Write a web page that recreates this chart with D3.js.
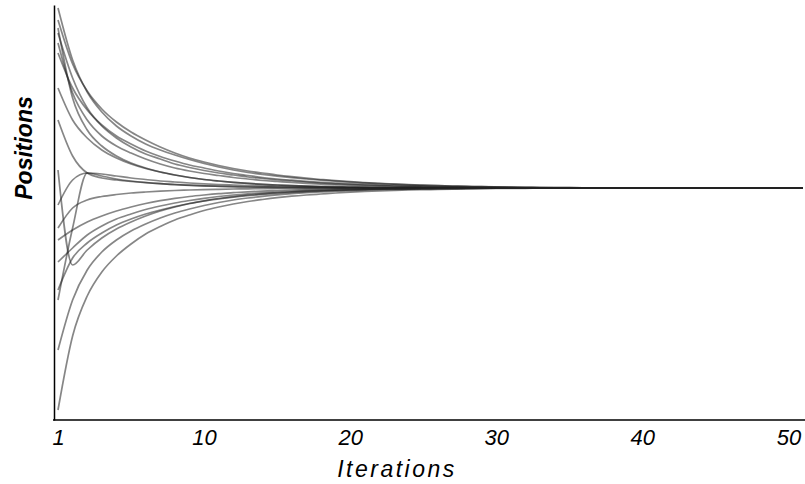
<!DOCTYPE html>
<html>
<head>
<meta charset="utf-8">
<script src="https://cdn.jsdelivr.net/npm/d3@7/dist/d3.min.js"></script>
<style>
  html, body { margin: 0; padding: 0; background: #fff; }
  svg { display: block; }
  text { font-family: "Liberation Sans", Arial, sans-serif; }
</style>
</head>
<body>
<svg id="chart" width="805" height="484"></svg>
<script>
// Tick labels on the iteration axis (placed at step index 0,10,...,50)
const tickSteps = [0, 10, 20, 30, 40, 50];
const tickLabels = ["1", "10", "20", "30", "40", "50"];

// Positions per iteration step (deviation from the converged position)
const seriesA = [180,128,96,76,62,52,44,38,33,28.5, 24.5,21,18,15.5,13.5,11.8,10.3,9,7.8,6.8, 5.9,5.1,4.4,3.8,3.2,2.7,2.3,1.9,1.6,1.3, 1.1,0.9,0.7,0.5,0.4,0.3,0.2,0.1,0,0, 0,0,0,0,0,0,0,0,0,0, 0,0];
const seriesB = [168,124,97,79,66,56,48,41,35,30, 26,22.5,19.5,17,15,13,11.3,9.8,8.5,7.3, 6.3,5.4,4.6,3.9,3.3,2.8,2.3,1.9,1.6,1.3, 1,0.8,0.6,0.5,0.4,0.3,0.2,0.1,0,0, 0,0,0,0,0,0,0,0,0,0, 0,0];
const seriesC = [155,110,80,62,50,41,34,29,24,20.5, 17.5,15,13,11,9.5,8,7,6,5,4.2, 3.5,3,2.5,2,1.6,1.3,1,0.8,0.6,0.5, 0.4,0.3,0.2,0.1,0,0,0,0,0,0, 0,0,0,0,0,0,0,0,0,0, 0,0];
const seriesD = [145,95,68,52,42,35,29,24,20,17, 14.5,12.5,10.5,9,7.5,6.5,5.5,4.6,3.9,3.2, 2.7,2.2,1.8,1.5,1.2,1,0.8,0.6,0.5,0.4, 0.3,0.2,0.1,0,0,0,0,0,0,0, 0,0,0,0,0,0,0,0,0,0, 0,0];
const seriesE = [135,100,78,63,52,44,37,31.5,27,23, 20,17,14.5,12.5,10.5,9,7.8,6.7,5.7,4.9, 4.2,3.6,3,2.6,2.2,1.8,1.5,1.2,1,0.8, 0.6,0.5,0.4,0.3,0.2,0.1,0,0,0,0, 0,0,0,0,0,0,0,0,0,0, 0,0];
const seriesF = [160,90,58,42,32,25,20,16,13,10.5, 8.5,7,5.7,4.6,3.7,3,2.4,1.9,1.5,1.2, 0.9,0.7,0.5,0.4,0.3,0.2,0.1,0,0,0, 0,0,0,0,0,0,0,0,0,0, 0,0,0,0,0,0,0,0,0,0, 0,0];
const seriesG = [100,68,50,38,30,24,19.5,16,13,10.5, 8.5,7,5.7,4.6,3.7,3,2.4,1.9,1.5,1.2, 0.9,0.7,0.5,0.4,0.3,0.2,0.1,0,0,0, 0,0,0,0,0,0,0,0,0,0, 0,0,0,0,0,0,0,0,0,0, 0,0];
const seriesH = [68,32,15,10,8,6.5,5.3,4.3,3.5,2.8, 2.2,1.8,1.4,1.1,0.9,0.7,0.5,0.4,0.3,0.2, 0.1,0,0,0,0,0,0,0,0,0, 0,0,0,0,0,0,0,0,0,0, 0,0,0,0,0,0,0,0,0,0, 0,0];
const seriesI = [-112,-40,15,14,12,10,8.5,7,6,5, 4.2,3.5,3,2.5,2,1.7,1.4,1.1,0.9,0.7, 0.5,0.4,0.3,0.2,0.1,0,0,0,0,0, 0,0,0,0,0,0,0,0,0,0, 0,0,0,0,0,0,0,0,0,0, 0,0];
const seriesJ = [-17,8,15,12,9,7,5.5,4.3,3.4,2.7, 2.1,1.7,1.3,1,0.8,0.6,0.5,0.4,0.3,0.2, 0.1,0,0,0,0,0,0,0,0,0, 0,0,0,0,0,0,0,0,0,0, 0,0,0,0,0,0,0,0,0,0, 0,0];
const seriesK = [-222,-148,-108,-84,-68,-56,-46,-38.5,-32,-27, -22.5,-19,-16,-13.5,-11.5,-9.7,-8.2,-7,-6,-5, -4.2,-3.5,-3,-2.5,-2,-1.7,-1.4,-1.1,-0.9,-0.7, -0.5,-0.4,-0.3,-0.2,-0.1,0,0,0,0,0, 0,0,0,0,0,0,0,0,0,0, 0,0];
const seriesL = [-162,-112,-82,-64,-52,-43,-36,-30,-25,-21, -17.5,-14.5,-12,-10,-8.3,-6.9,-5.7,-4.7,-3.9,-3.2, -2.6,-2.1,-1.7,-1.4,-1.1,-0.9,-0.7,-0.5,-0.4,-0.3, -0.2,-0.1,0,0,0,0,0,0,0,0, 0,0,0,0,0,0,0,0,0,0, 0,0];
const seriesM = [-102,-70,-55,-45,-37,-31,-26,-22,-18.5,-15.5, -13,-11,-9.2,-7.7,-6.4,-5.3,-4.4,-3.6,-3,-2.5, -2,-1.6,-1.3,-1,-0.8,-0.6,-0.5,-0.4,-0.3,-0.2, -0.1,0,0,0,0,0,0,0,0,0, 0,0,0,0,0,0,0,0,0,0, 0,0];
const seriesN = [-74,-60,-47,-38,-31,-26,-21.5,-18,-15,-12.5, -10.3,-8.5,-7,-5.8,-4.8,-4,-3.3,-2.7,-2.2,-1.8, -1.5,-1.2,-1,-0.8,-0.6,-0.5,-0.4,-0.3,-0.2,-0.1, 0,0,0,0,0,0,0,0,0,0, 0,0,0,0,0,0,0,0,0,0, 0,0];
const seriesO = [-52,-42,-34,-28,-23,-19,-15.5,-12.7,-10.4,-8.5, -7,-5.7,-4.7,-3.8,-3.1,-2.5,-2,-1.6,-1.3,-1, -0.8,-0.6,-0.5,-0.4,-0.3,-0.2,-0.1,0,0,0, 0,0,0,0,0,0,0,0,0,0, 0,0,0,0,0,0,0,0,0,0, 0,0];
const seriesP = [-40,-20,-12,-8.5,-6.5,-5,-4,-3.2,-2.5,-2, -1.6,-1.3,-1,-0.8,-0.6,-0.5,-0.4,-0.3,-0.2,-0.1, 0,0,0,0,0,0,0,0,0,0, 0,0,0,0,0,0,0,0,0,0, 0,0,0,0,0,0,0,0,0,0, 0,0];
const seriesQ = [18,-77,-62,-50,-41,-34,-28,-23,-19,-15.5, -12.8,-10.5,-8.6,-7,-5.8,-4.7,-3.9,-3.2,-2.6,-2.1, -1.7,-1.4,-1.1,-0.9,-0.7,-0.5,-0.4,-0.3,-0.2,-0.1, 0,0,0,0,0,0,0,0,0,0, 0,0,0,0,0,0,0,0,0,0, 0,0];

const allSeries = [seriesA, seriesB, seriesC, seriesD, seriesE, seriesF, seriesG, seriesH,
                   seriesI, seriesJ, seriesK, seriesL, seriesM, seriesN, seriesO, seriesP, seriesQ];

const svg = d3.select("#chart");

const x = d3.scaleLinear().domain([0, 51]).range([58, 803]);
const y = d3.scaleLinear().domain([-232, 183]).range([420, 5]);

// lines
const line = d3.line()
  .x((d, i) => x(i))
  .y(d => y(d))
  .curve(d3.curveMonotoneX);

svg.append("g")
  .selectAll("path")
  .data(allSeries)
  .join("path")
  .attr("d", line)
  .attr("fill", "none")
  .attr("stroke", "#222")
  .attr("stroke-opacity", 0.55)
  .attr("stroke-width", 1.7);

// y axis
const yAxis = svg.append("g")
  .attr("transform", "translate(54,0)")
  .call(d3.axisLeft(y).tickValues([]).tickSizeOuter(0));
yAxis.select(".domain").attr("stroke", "#000").attr("stroke-width", 1.5);

// x axis
const xAxis = svg.append("g")
  .attr("transform", "translate(0,420)")
  .call(d3.axisBottom(x)
    .tickValues(tickSteps)
    .tickFormat((d, i) => tickLabels[i])
    .tickSize(0)
    .tickPadding(9));
xAxis.select(".domain").remove();
xAxis.append("line")
  .attr("x1", 53).attr("x2", 805)
  .attr("y1", 0).attr("y2", 0)
  .attr("stroke", "#000").attr("stroke-width", 1.5);
xAxis.selectAll(".tick text")
  .attr("font-size", 22)
  .attr("font-style", "italic")
  .attr("fill", "#000")
  .attr("font-family", "'Liberation Sans', Arial, sans-serif");

// axis titles
svg.append("text")
  .attr("x", 397)
  .attr("y", 477)
  .attr("text-anchor", "middle")
  .attr("font-size", 23)
  .attr("font-style", "italic")
  .attr("letter-spacing", "2.5px")
  .attr("fill", "#000")
  .text("Iterations");

svg.append("text")
  .attr("transform", "translate(32,148) rotate(-90)")
  .attr("text-anchor", "middle")
  .attr("font-size", 23)
  .attr("font-style", "italic")
  .attr("font-weight", "bold")
  .attr("fill", "#000")
  .text("Positions");
</script>
</body>
</html>
